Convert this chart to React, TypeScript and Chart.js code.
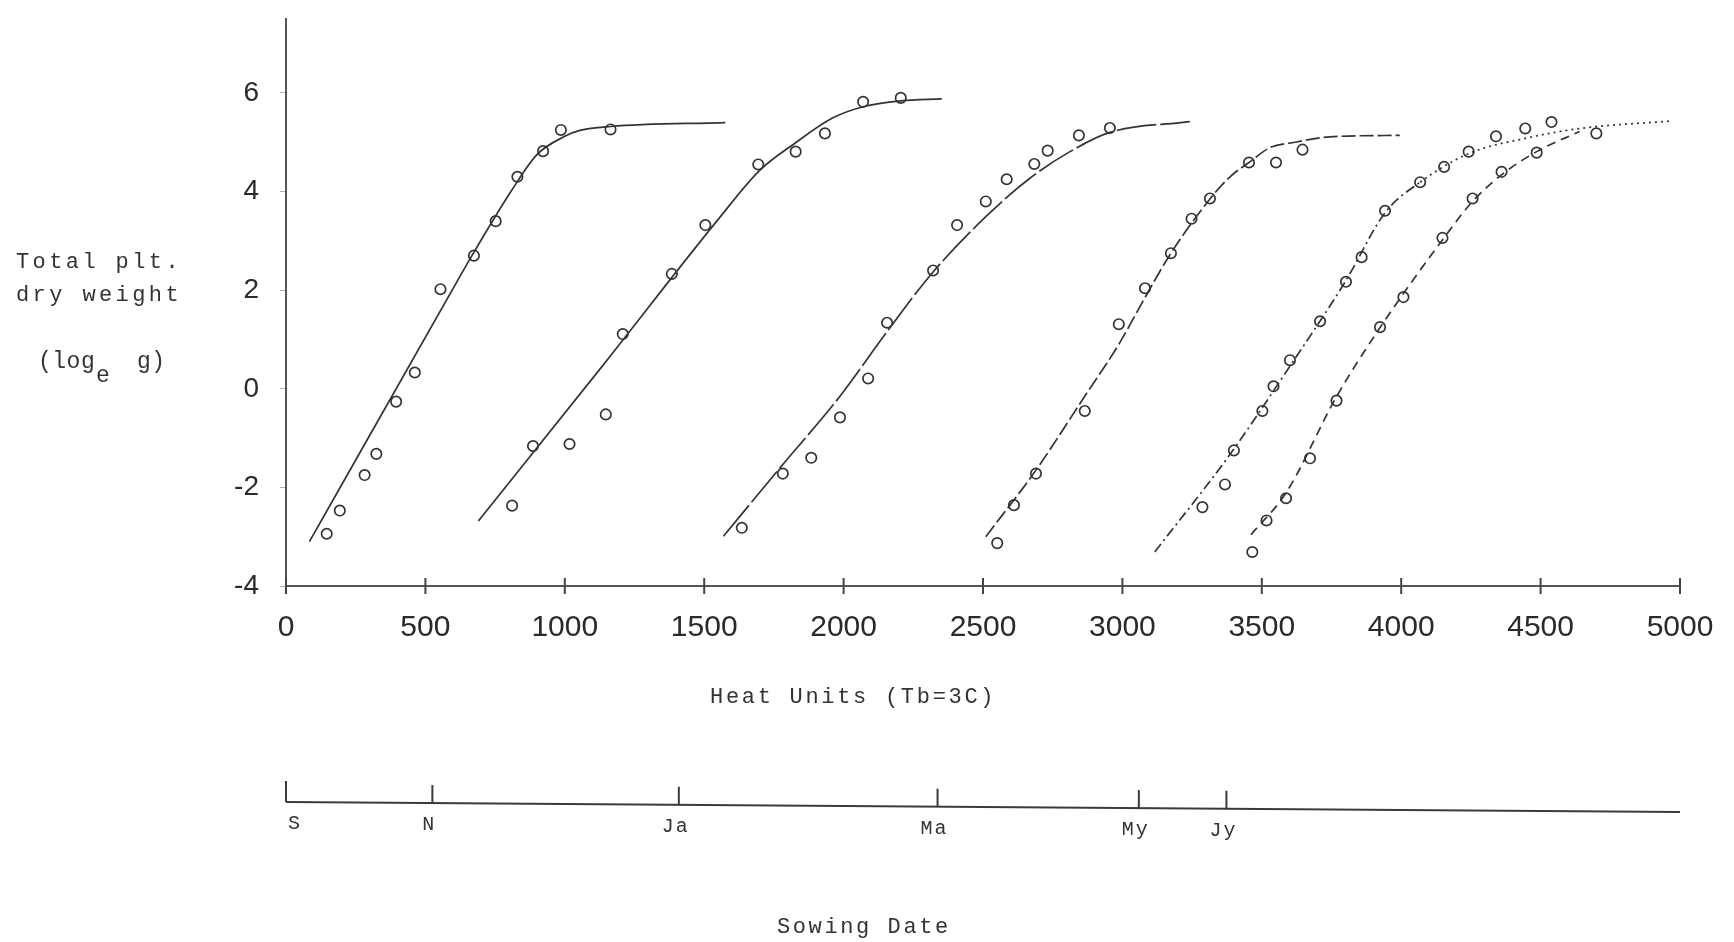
import React, { useEffect, useRef } from 'react';
import { Chart, registerables } from 'chart.js';

Chart.register(...registerables);

// ---- Axis ticks ----
const xTickValues = [0, 500, 1000, 1500, 2000, 2500, 3000, 3500, 4000, 4500, 5000];
const yTickValues = [-4, -2, 0, 2, 4, 6];

// ---- Sowing date axis (positions in heat units) ----
const sowingLabels = ['S', 'N', 'Ja', 'Ma', 'My', 'Jy'];
const sowingHeatUnits = [0, 525, 1409, 2337, 3059, 3373];

// ---- Observed values (heat units, log_e g) ----
const obsHU1 = [146, 193, 282, 324, 395, 462, 554, 674, 752, 830, 922, 986, 1164];
const obsLnW1 = [-2.94, -2.47, -1.75, -1.32, -0.26, 0.33, 2.02, 2.7, 3.4, 4.3, 4.82, 5.25, 5.26];

const obsHU2 = [811, 886, 1017, 1147, 1208, 1384, 1504, 1694, 1828, 1933, 2070, 2205];
const obsLnW2 = [-2.37, -1.16, -1.12, -0.52, 1.11, 2.33, 3.32, 4.55, 4.81, 5.18, 5.82, 5.9];

const obsHU3 = [1635, 1782, 1884, 1987, 2088, 2156, 2321, 2407, 2510, 2585, 2684, 2732, 2844, 2955];
const obsLnW3 = [-2.82, -1.72, -1.4, -0.58, 0.21, 1.34, 2.4, 3.32, 3.8, 4.25, 4.56, 4.83, 5.14, 5.29];

const obsHU4 = [2551, 2611, 2690, 2865, 2987, 3081, 3174, 3248, 3314, 3454, 3551, 3646];
const obsLnW4 = [-3.13, -2.36, -1.72, -0.45, 1.31, 2.04, 2.75, 3.45, 3.86, 4.59, 4.59, 4.85];

const obsHU5 = [3287, 3368, 3400, 3502, 3542, 3601, 3709, 3802, 3858, 3942, 4068, 4154, 4242, 4340, 4445, 4539];
const obsLnW5 = [-2.4, -1.94, -1.25, -0.45, 0.05, 0.58, 1.37, 2.17, 2.67, 3.61, 4.19, 4.5, 4.81, 5.12, 5.28, 5.41];

const obsHU6 = [3466, 3517, 3587, 3673, 3768, 3924, 4008, 4148, 4256, 4360, 4486, 4700];
const obsLnW6 = [-3.31, -2.67, -2.22, -1.41, -0.24, 1.25, 1.86, 3.06, 3.86, 4.4, 4.79, 5.18];

// ---- Fitted curves ----
const fitHU1 = [84, 596, 669, 809, 900, 1000, 1054, 1164, 1576];
const fitLnW1 = [-3.1, 2.0, 2.72, 4.02, 4.75, 5.12, 5.24, 5.32, 5.4];

const fitHU2 = [690, 1136, 1548, 1699, 1823, 1960, 2070, 2205, 2352];
const fitLnW2 = [-2.68, 0.47, 3.42, 4.43, 4.97, 5.49, 5.72, 5.84, 5.88];

const fitHU3 = [1569, 1768, 1987, 2156, 2321, 2510, 2668, 2812, 2955, 3242];
const fitLnW3 = [-2.99, -1.63, -0.15, 1.16, 2.37, 3.49, 4.27, 4.81, 5.2, 5.42];

const fitHU4 = [2510, 2690, 2865, 2987, 3081, 3174, 3314, 3386, 3454, 3529, 3619, 3744, 3995];
const fitLnW4 = [-3.0, -1.65, -0.15, 0.9, 1.85, 2.75, 3.85, 4.3, 4.59, 4.89, 5.0, 5.11, 5.14];

const fitHU5 = [3116, 3386, 3601, 3799, 3942, 4068, 4242, 4445, 4641, 4964];
const fitLnW5 = [-3.31, -1.33, 0.46, 2.17, 3.57, 4.19, 4.77, 5.08, 5.28, 5.43];

const fitHU6 = [3461, 3587, 3768, 3924, 4148, 4256, 4360, 4486, 4640];
const fitLnW6 = [-2.96, -2.11, -0.16, 1.24, 3.02, 3.8, 4.34, 4.81, 5.22];

const toPoints = (xs: number[], ys: number[]) => xs.map((x, i) => ({ x, y: ys[i] }));

const INK = '#333333';
const MONO = '"Liberation Mono", "DejaVu Sans Mono", monospace';

function fitDataset(xs: number[], ys: number[], extra: any = {}) {
  return {
    type: 'line',
    data: toPoints(xs, ys),
    borderColor: INK,
    borderWidth: 1.7,
    pointRadius: 0,
    fill: false,
    cubicInterpolationMode: 'monotone',
    ...extra,
  };
}

function obsDataset(xs: number[], ys: number[]) {
  return {
    type: 'line',
    data: toPoints(xs, ys),
    showLine: false,
    pointStyle: 'circle',
    pointRadius: 5.2,
    pointBorderWidth: 1.7,
    pointBorderColor: INK,
    pointBackgroundColor: 'rgba(0,0,0,0)',
  };
}

const decorPlugin = {
  id: 'decor',
  afterDraw(chart: any) {
    const ctx = chart.ctx as CanvasRenderingContext2D;
    const xs = chart.scales.x;
    const area = chart.chartArea;
    ctx.save();

    // crossing tick marks on the heat-unit axis
    ctx.strokeStyle = '#444';
    ctx.lineWidth = 2;
    xTickValues.forEach((v) => {
      const px = xs.getPixelForValue(v);
      ctx.beginPath();
      ctx.moveTo(px, area.bottom - 8);
      ctx.lineTo(px, area.bottom + 8);
      ctx.stroke();
    });

    ctx.fillStyle = INK;
    ctx.textAlign = 'left';
    ctx.textBaseline = 'middle';

    // y-axis title
    ctx.font = `22px ${MONO}`;
    (ctx as any).letterSpacing = '3.4px';
    ctx.fillText('Total plt.', 16, 262);
    ctx.fillText('dry weight', 16, 295);
    (ctx as any).letterSpacing = '0.5px';
    ctx.font = `23px ${MONO}`;
    ctx.fillText('(log', 38, 362);
    ctx.fillText('e', 96, 376);
    ctx.fillText('g)', 137, 362);

    // x-axis title
    ctx.font = `22px ${MONO}`;
    (ctx as any).letterSpacing = '2.7px';
    ctx.fillText('Heat Units (Tb=3C)', 710, 697);

    // sowing date axis
    const x0 = xs.getPixelForValue(0);
    const x1 = xs.getPixelForValue(5000);
    const baseAt = (px: number) => 802 + (10 * (px - x0)) / (x1 - x0);
    ctx.strokeStyle = '#3a3a3a';
    ctx.lineWidth = 2;
    ctx.beginPath();
    ctx.moveTo(x0, baseAt(x0));
    ctx.lineTo(x1, baseAt(x1));
    ctx.stroke();

    ctx.font = `20px ${MONO}`;
    (ctx as any).letterSpacing = '2px';
    sowingHeatUnits.forEach((hu, i) => {
      const px = xs.getPixelForValue(hu);
      const by = baseAt(px);
      ctx.beginPath();
      ctx.moveTo(px, by);
      ctx.lineTo(px, by - (i === 0 ? 21 : 18));
      ctx.stroke();
      ctx.textAlign = i === 0 ? 'left' : 'center';
      ctx.fillText(sowingLabels[i], i === 0 ? px + 2 : px - 3, by + 22);
    });

    ctx.textAlign = 'left';
    ctx.font = `22px ${MONO}`;
    (ctx as any).letterSpacing = '2.6px';
    ctx.fillText('Sowing Date', 777, 927);

    ctx.restore();
  },
};

export default function App() {
  const canvasRef = useRef<HTMLCanvasElement | null>(null);

  useEffect(() => {
    if (!canvasRef.current) return;
    const chart = new Chart(canvasRef.current, {
      type: 'line',
      data: {
        datasets: [
          fitDataset(fitHU1, fitLnW1),
          fitDataset(fitHU2, fitLnW2),
          fitDataset(fitHU3, fitLnW3, { borderDash: [40, 4] }),
          fitDataset(fitHU4, fitLnW4, { borderDash: [14, 4] }),
          fitDataset(fitHU5, fitLnW5, {
            segment: {
              borderDash: (c: any) => (c.p0.parsed.x >= 4068 ? [2, 4] : [10, 4, 2, 4]),
            },
          }),
          fitDataset(fitHU6, fitLnW6, { borderDash: [9, 6] }),
          obsDataset(obsHU1, obsLnW1),
          obsDataset(obsHU2, obsLnW2),
          obsDataset(obsHU3, obsLnW3),
          obsDataset(obsHU4, obsLnW4),
          obsDataset(obsHU5, obsLnW5),
          obsDataset(obsHU6, obsLnW6),
        ] as any,
      },
      options: {
        animation: false,
        responsive: false,
        maintainAspectRatio: false,
        layout: { padding: { left: 0, top: 19, right: 54, bottom: 296 } },
        plugins: { legend: { display: false }, tooltip: { enabled: false } },
        scales: {
          x: {
            type: 'linear',
            min: 0,
            max: 5000,
            afterBuildTicks: (s: any) => {
              s.ticks = xTickValues.map((v) => ({ value: v }));
            },
            afterFit: (s: any) => {
              s.height = 60;
              s.paddingLeft = 0;
              s.paddingRight = 0;
            },
            border: { display: true, color: '#555', width: 2 },
            grid: { display: true, drawOnChartArea: false, drawTicks: false },
            ticks: {
              padding: 24,
              maxRotation: 0,
              autoSkip: false,
              color: '#2a2a2a',
              font: { family: '"Liberation Sans", Arial, sans-serif', size: 30 },
              callback: (v: any) => String(v),
            },
          },
          y: {
            type: 'linear',
            min: -4,
            max: 7.5,
            afterBuildTicks: (s: any) => {
              s.ticks = yTickValues.map((v) => ({ value: v }));
            },
            afterFit: (s: any) => {
              s.width = 286;
              s.paddingTop = 0;
              s.paddingBottom = 0;
            },
            border: { display: true, color: '#555', width: 2 },
            grid: {
              display: true,
              drawOnChartArea: false,
              drawTicks: true,
              tickLength: 6,
              color: '#b0b0b0',
              lineWidth: 1,
            },
            ticks: {
              padding: 21,
              color: '#2a2a2a',
              font: { family: '"Liberation Sans", Arial, sans-serif', size: 28 },
              callback: (v: any) => String(v),
            },
          },
        },
      } as any,
      plugins: [decorPlugin],
    });
    return () => chart.destroy();
  }, []);

  return (
    <div style={{ position: 'absolute', left: 0, top: 0, width: 1734, height: 942, background: '#fff' }}>
      <canvas ref={canvasRef} width={1734} height={942} style={{ display: 'block' }} />
    </div>
  );
}
